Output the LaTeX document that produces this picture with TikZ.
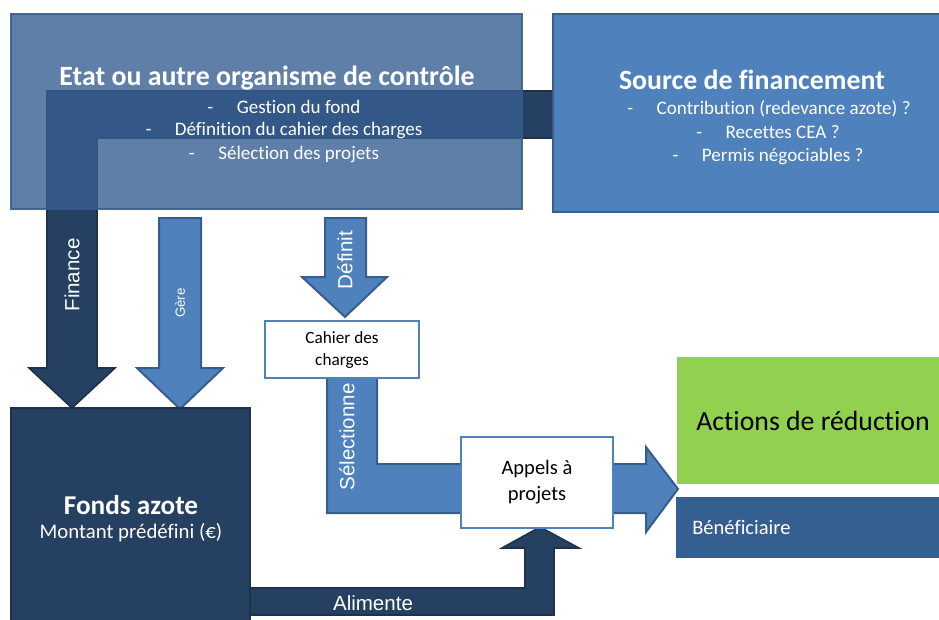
\documentclass[tikz,border=0pt]{standalone}
\usepackage{fontspec}
\setmainfont{Carlito}[Ligatures=NoCommon]
\newfontfamily\arialf{Liberation Sans}
\definecolor{dkblue}{RGB}{38,64,97}
\definecolor{dkedge}{RGB}{30,50,78}
\definecolor{mdblue}{RGB}{79,129,189}
\definecolor{bdblue}{RGB}{56,93,138}
\definecolor{etblue}{RGB}{55,95,146}
\definecolor{bnblue}{RGB}{54,95,145}
\definecolor{actgreen}{RGB}{146,208,80}
\newcommand\fs[1]{\fontsize{#1}{#1}\selectfont}
\newcommand\fsb[2]{\fontsize{#1}{#2}\selectfont}
\newcommand\dashitem{\makebox[22pt][l]{-}}
\begin{document}
\begin{tikzpicture}[x=0.75pt,y=-0.75pt,
  box/.style={rectangle,inner sep=0pt,outer sep=0pt},
  darrow/.style={fill=dkblue,draw=dkedge,line width=1.2pt,line join=miter},
  larrow/.style={fill=mdblue,draw=bdblue,line width=1.5pt,line join=miter},
  wbox/.style={box,fill=white,draw=mdblue,line width=1.8pt,text=black},
  wtxt/.style={text=white,inner sep=0pt},
  rlab/.style={text=white,inner sep=0pt,rotate=90,font=\arialf\fs{15.4}},
  ttl/.style={text=white,inner sep=0pt,font=\bfseries\fs{20.9}},
  itm/.style={text=white,inner sep=0pt,font=\fs{14.3}}
]
\useasboundingbox (0,0) rectangle (939,619);

% Finance arrow (under the Etat box)
\draw[darrow] (553,91) -- (47,91) -- (47,368) -- (29,368) -- (72,408) -- (115,368) -- (97,368) -- (97,138) -- (553,138) -- cycle;

% Etat box (semi-transparent)
\node[box,fill=etblue,fill opacity=0.8,draw=bdblue,draw opacity=0.9,line width=1.5pt,
  minimum width=511*0.75pt,minimum height=195*0.75pt] (etat) at (266.5,111.5) {};
\node[ttl] (etatT) at (267,78) {Etat ou autre organisme de contrôle};
\node[itm] (etat1) at (284,106.5) {\dashitem Gestion du fond};
\node[itm] (etat2) at (284,130.5) {\dashitem Définition du cahier des charges};
\node[itm] (etat3) at (284,154.5) {\dashitem Sélection des projets};

% Source box
\node[box,fill=mdblue,draw=bdblue,line width=1.5pt,
  minimum width=392*0.75pt,minimum height=198*0.75pt] (src) at (749,113) {};
\node[ttl] (srcT) at (752,80) {Source de financement};
\node[itm] (src1) at (769,108.5) {\dashitem Contribution (redevance azote) ?};
\node[itm] (src2) at (768,132.5) {\dashitem Recettes CEA ?};
\node[itm] (src3) at (768,156.5) {\dashitem Permis négociables ?};

% Gere arrow
\draw[larrow] (159,218) -- (201,218) -- (201,368) -- (223,368) -- (180,409) -- (137,368) -- (159,368) -- cycle;
\node[rlab,font=\arialf\fs{10}] (gere) at (180,303) {Gère};

% Finance label
\node[rlab] (fin) at (72,275) {Finance};

% Definit arrow
\draw[larrow] (325,218) -- (366,218) -- (366,277) -- (387,277) -- (345,317) -- (302,277) -- (325,277) -- cycle;
\node[rlab] (def) at (345,260) {Définit};

% Selectionne arrow
\draw[larrow] (327,372) -- (377,372) -- (377,464) -- (646,464) -- (646,447) -- (678,489) -- (646,532) -- (646,513) -- (327,513) -- cycle;
\node[rlab] (sel) at (347,437) {Sélectionne};

% Cahier des charges
\node[wbox,minimum width=154*0.75pt,minimum height=57*0.75pt,align=center,
  font={\fsb{12.9}{16.5}}] (cahier) at (342,349.5) {Cahier des\\charges};

% Alimente arrow
\draw[darrow] (240,588) -- (525,588) -- (525,548) -- (502,548) -- (540,527) -- (579,548) -- (554,548) -- (554,615) -- (240,615) -- cycle;
\node[wtxt,font=\arialf\fs{15.4}] (alim) at (373,603) {Alimente};

% Appels a projets
\node[wbox,minimum width=152*0.75pt,minimum height=91*0.75pt,align=center,
  font={\fsb{15.4}{19.5}}] (appels) at (537,482.5) {Appels à\\projets};

% Fonds azote
\node[box,fill=dkblue,draw=dkedge,line width=1.2pt,
  minimum width=239*0.75pt,minimum height=217*0.75pt] (fonds) at (130.5,516.5) {};
\node[wtxt,font=\bfseries\fs{20.4}] (fondsT) at (131,505) {Fonds azote};
\node[wtxt,font=\fs{15.6}] (fondsM) at (131,533) {Montant prédéfini (€)};

% Actions de reduction
\node[box,fill=actgreen,minimum width=268*0.75pt,minimum height=127*0.75pt] (act) at (811,420.5) {};
\node[inner sep=0pt,text=black,font=\fs{20.8}] (actT) at (813,421) {Actions de réduction};

% Beneficiaire
\node[box,fill=bnblue,minimum width=269*0.75pt,minimum height=61*0.75pt] (ben) at (810.5,527.5) {};
\node[wtxt,anchor=west,font=\fs{15.4}] (benT) at (692,528) {Bénéficiaire};
\end{tikzpicture}
\end{document}
